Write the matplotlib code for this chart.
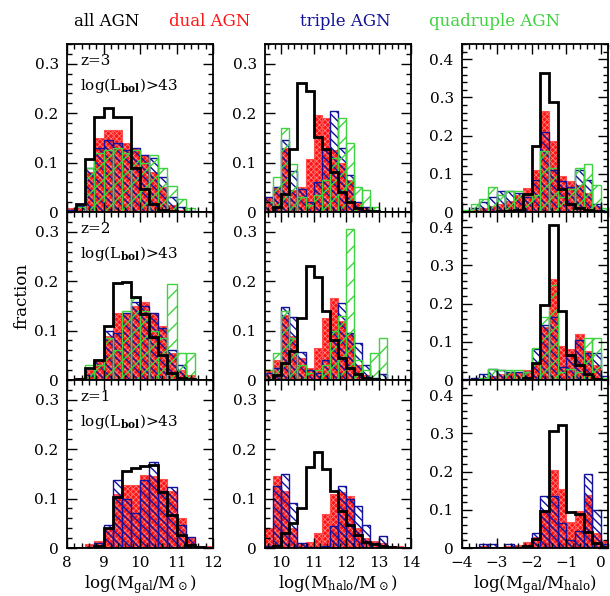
import numpy as np
import matplotlib
matplotlib.use('Agg')
import matplotlib.pyplot as plt
from matplotlib.ticker import MultipleLocator, FuncFormatter

plt.rcParams['font.family'] = 'DejaVu Serif'
plt.rcParams['mathtext.fontset'] = 'dejavuserif'
plt.rcParams['hatch.linewidth'] = 1.0

# bin edges (0.25 dex everywhere)
edges_gal = np.arange(8.0, 12.01, 0.25)
edges_halo = np.arange(9.5, 14.01, 0.25)
edges_ratio = np.arange(-4.0, 0.26, 0.25)

# --- log(Mgal/Msun), bins 8.0 ... 11.75
all_gal_z3 = [0, 0.016, 0.107, 0.193, 0.21, 0.193, 0.193, 0.09, 0.046, 0.016, 0.005, 0.002, 0, 0, 0, 0]
dual_gal_z3 = [0.008, 0.015, 0.08, 0.15, 0.165, 0.165, 0.14, 0.13, 0.115, 0.08, 0.05, 0.015, 0.005, 0, 0, 0]
triple_gal_z3 = [0.005, 0.012, 0.09, 0.13, 0.145, 0.14, 0.125, 0.13, 0.115, 0.11, 0.07, 0.03, 0.01, 0.003, 0, 0]
quad_gal_z3 = [0, 0.01, 0.09, 0.12, 0.125, 0.13, 0.12, 0.125, 0.1, 0.115, 0.09, 0.053, 0.026, 0.008, 0, 0]

all_gal_z2 = [0, 0.003, 0.025, 0.04, 0.11, 0.197, 0.198, 0.168, 0.133, 0.088, 0.05, 0.015, 0.005, 0.002, 0, 0]
dual_gal_z2 = [0.003, 0.005, 0.02, 0.04, 0.09, 0.135, 0.135, 0.15, 0.158, 0.135, 0.11, 0.055, 0.02, 0.01, 0.003, 0]
triple_gal_z2 = [0, 0, 0.01, 0.04, 0.1, 0.095, 0.135, 0.157, 0.15, 0.135, 0.105, 0.06, 0.03, 0.005, 0, 0]
quad_gal_z2 = [0, 0, 0.03, 0.03, 0.085, 0.06, 0.14, 0.165, 0.14, 0.1, 0.085, 0.195, 0.055, 0.055, 0, 0]

all_gal_z1 = [0, 0, 0, 0.005, 0.04, 0.104, 0.155, 0.162, 0.166, 0.168, 0.113, 0.067, 0.027, 0.007, 0.002, 0]
dual_gal_z1 = [0, 0, 0.008, 0.015, 0.04, 0.11, 0.128, 0.128, 0.148, 0.145, 0.14, 0.115, 0.061, 0.02, 0.005, 0.004]
triple_gal_z1 = [0, 0, 0.003, 0.01, 0.046, 0.138, 0.1, 0.07, 0.138, 0.175, 0.115, 0.124, 0.047, 0.022, 0.003, 0]

# --- log(Mhalo/Msun), bins 9.5 ... 13.75
all_halo_z3 = [0, 0.01, 0.036, 0.127, 0.262, 0.245, 0.151, 0.127, 0.08, 0.04, 0.02, 0.009, 0.003, 0.002, 0, 0, 0, 0]
dual_halo_z3 = [0.03, 0.05, 0.13, 0.045, 0.05, 0.107, 0.196, 0.19, 0.125, 0.1, 0.065, 0.02, 0.01, 0.003, 0, 0, 0, 0]
triple_halo_z3 = [0.03, 0.05, 0.145, 0.083, 0.047, 0.02, 0.06, 0.127, 0.205, 0.13, 0.075, 0.02, 0.01, 0.003, 0, 0, 0, 0]
quad_halo_z3 = [0.02, 0.07, 0.17, 0.098, 0.03, 0.015, 0.035, 0.065, 0.11, 0.19, 0.14, 0.05, 0.045, 0.01, 0, 0, 0, 0]

all_halo_z2 = [0, 0.01, 0.035, 0.058, 0.125, 0.23, 0.208, 0.14, 0.08, 0.045, 0.025, 0.013, 0.005, 0.003, 0, 0, 0, 0]
dual_halo_z2 = [0.02, 0.04, 0.132, 0.09, 0.045, 0.025, 0.065, 0.125, 0.165, 0.12, 0.095, 0.03, 0.01, 0.005, 0.003, 0, 0, 0]
triple_halo_z2 = [0.015, 0.025, 0.147, 0.127, 0.057, 0.02, 0.015, 0.04, 0.1, 0.155, 0.095, 0.075, 0.03, 0.005, 0.012, 0, 0, 0]
quad_halo_z2 = [0.02, 0.055, 0.14, 0.085, 0.03, 0.015, 0.02, 0.03, 0.1, 0.13, 0.305, 0.04, 0.02, 0.055, 0.085, 0, 0, 0]

all_halo_z1 = [0, 0.005, 0.03, 0.05, 0.08, 0.163, 0.195, 0.16, 0.116, 0.074, 0.046, 0.027, 0.013, 0.008, 0.004, 0.002, 0, 0]
dual_halo_z1 = [0.04, 0.145, 0.115, 0.04, 0.01, 0.012, 0.03, 0.068, 0.11, 0.113, 0.105, 0.04, 0.02, 0.015, 0.01, 0.005, 0.005, 0]
triple_halo_z1 = [0.005, 0.125, 0.15, 0.092, 0.01, 0.002, 0.002, 0.005, 0.045, 0.126, 0.1, 0.085, 0.046, 0.01, 0.024, 0.002, 0, 0]

# --- log(Mgal/Mhalo), bins -4.0 ... 0.0
all_ratio_z3 = [0, 0, 0, 0, 0.002, 0.003, 0.005, 0.046, 0.173, 0.365, 0.288, 0.06, 0.022, 0.011, 0.005, 0.002, 0]
dual_ratio_z3 = [0, 0.005, 0.01, 0.015, 0.02, 0.03, 0.045, 0.064, 0.11, 0.265, 0.185, 0.095, 0.08, 0.07, 0.05, 0.015, 0.005]
triple_ratio_z3 = [0, 0.01, 0.025, 0.04, 0.055, 0.055, 0.05, 0.04, 0.085, 0.21, 0.11, 0.08, 0.065, 0.11, 0.085, 0.02, 0.005]
quad_ratio_z3 = [0.005, 0.02, 0.035, 0.065, 0.045, 0.055, 0.055, 0.045, 0.045, 0.16, 0.115, 0.04, 0.06, 0.115, 0.125, 0.07, 0.01]

all_ratio_z2 = [0, 0, 0, 0, 0, 0, 0, 0.005, 0.045, 0.197, 0.405, 0.18, 0.065, 0.04, 0.015, 0.003, 0]
dual_ratio_z2 = [0, 0.003, 0.005, 0.01, 0.015, 0.02, 0.02, 0.025, 0.045, 0.14, 0.265, 0.09, 0.08, 0.12, 0.075, 0.04, 0.005]
triple_ratio_z2 = [0.003, 0.005, 0.015, 0.03, 0.025, 0.02, 0.02, 0.02, 0.08, 0.145, 0.165, 0.035, 0.065, 0.105, 0.07, 0.07, 0.01]
quad_ratio_z2 = [0, 0, 0.005, 0.03, 0.025, 0.025, 0.025, 0.02, 0.085, 0.165, 0.25, 0.02, 0.03, 0.02, 0.11, 0.11, 0.005]

all_ratio_z1 = [0, 0, 0, 0, 0, 0, 0, 0.005, 0.023, 0.097, 0.307, 0.322, 0.093, 0.09, 0.041, 0.012, 0.003]
dual_ratio_z1 = [0, 0, 0.005, 0.003, 0, 0.005, 0.008, 0.015, 0.03, 0.1, 0.205, 0.155, 0.068, 0.098, 0.14, 0.04, 0.018]
triple_ratio_z1 = [0, 0, 0.01, 0.01, 0, 0.01, 0.003, 0.005, 0.04, 0.137, 0.137, 0.065, 0.02, 0.045, 0.195, 0.1, 0.01]

redshift_labels = ['z=3', 'z=2', 'z=1']
legend_labels = ['all AGN', 'dual AGN', 'triple AGN', 'quadruple AGN']

RED = '#ff1414'
RED_HATCH = '#ff8a8a'
BLUE = '#12129a'
GREEN = '#3fd33f'


def draw_panel(ax, edges, all_agn, dual, triple, quad=None):
  left = edges[:-1]
  w = np.diff(edges)
  # red: solid fill with a fine light texture, then a red outline
  with plt.rc_context({'hatch.linewidth': 0.5}):
    ax.bar(left, dual, width=w, align='edge', facecolor=RED,
           edgecolor=RED_HATCH, hatch='xxxxxx', linewidth=0)
  ax.bar(left, dual, width=w, align='edge', facecolor='none',
         edgecolor='#ff5050', linewidth=0.8)
  ax.bar(left, triple, width=w, align='edge', facecolor='none',
         edgecolor=BLUE, hatch='\\\\\\\\', linewidth=1.0)
  if quad is not None:
    ax.bar(left, quad, width=w, align='edge', facecolor='none',
           edgecolor=GREEN, hatch='//', linewidth=1.0)
  ax.stairs(all_agn, edges, color='black', linewidth=2.0, baseline=0)


def fmt_y(v, pos):
  if abs(v) < 1e-9:
    return '0'
  return f'{v:.1f}'


def fmt_x(v, pos):
  return f'{v:g}'.replace('-', '\u2212')


fig = plt.figure(figsize=(6.1, 5.96), dpi=100)

col_left = [67 / 610, 265 / 610, 462 / 610]
col_w = 146 / 610
row_bottom = [(596 - 212) / 596, (596 - 380) / 596, (596 - 548) / 596]
row_h = 168 / 596

panels = [
  [(edges_gal, all_gal_z3, dual_gal_z3, triple_gal_z3, quad_gal_z3),
   (edges_halo, all_halo_z3, dual_halo_z3, triple_halo_z3, quad_halo_z3),
   (edges_ratio, all_ratio_z3, dual_ratio_z3, triple_ratio_z3, quad_ratio_z3)],
  [(edges_gal, all_gal_z2, dual_gal_z2, triple_gal_z2, quad_gal_z2),
   (edges_halo, all_halo_z2, dual_halo_z2, triple_halo_z2, quad_halo_z2),
   (edges_ratio, all_ratio_z2, dual_ratio_z2, triple_ratio_z2, quad_ratio_z2)],
  [(edges_gal, all_gal_z1, dual_gal_z1, triple_gal_z1, None),
   (edges_halo, all_halo_z1, dual_halo_z1, triple_halo_z1, None),
   (edges_ratio, all_ratio_z1, dual_ratio_z1, triple_ratio_z1, None)],
]

xlims = [(8, 12), (9.5, 14), (-4, 0.2)]
ylims = [(0, 0.34), (0, 0.34), (0, 0.44)]
xlabels = [r'log(M$_{\rm gal}$/M$_\odot$)',
           r'log(M$_{\rm halo}$/M$_\odot$)',
           r'log(M$_{\rm gal}$/M$_{\rm halo}$)']

for i in range(3):
  for j in range(3):
    ax = fig.add_axes([col_left[j], row_bottom[i], col_w, row_h])
    e, a, d, t, q = panels[i][j]
    draw_panel(ax, e, a, d, t, q)
    ax.set_xlim(*xlims[j])
    ax.set_ylim(*ylims[j])
    ax.xaxis.set_major_locator(MultipleLocator(1))
    ax.xaxis.set_minor_locator(MultipleLocator(0.2))
    ax.yaxis.set_major_locator(MultipleLocator(0.1))
    ax.yaxis.set_minor_locator(MultipleLocator(0.02))
    ax.yaxis.set_major_formatter(FuncFormatter(fmt_y))
    ax.xaxis.set_major_formatter(FuncFormatter(fmt_x))
    ax.tick_params(which='both', direction='in', top=True, right=True,
                   width=1.0, labelsize=11, pad=6)
    ax.tick_params(which='major', length=7)
    ax.tick_params(which='minor', length=3.5)
    for s in ax.spines.values():
      s.set_linewidth(1.3)
    if i < 2:
      ax.tick_params(labelbottom=False)
    else:
      ax.set_xlabel(xlabels[j], fontsize=12, labelpad=2)
    if j == 0:
      ax.text(0.09, 0.9, redshift_labels[i], transform=ax.transAxes,
              fontsize=11, ha='left', va='center')
      ax.text(0.09, 0.755, r'log(L$_{\bf bol}$)>43', transform=ax.transAxes,
              fontsize=11, ha='left', va='center')
    if i == 1 and j == 0:
      ax.set_ylabel('fraction', fontsize=12, labelpad=3)

# colour key along the top
key_x = [107 / 610, 210 / 610, 345 / 610, 495 / 610]
key_colors = ['black', RED, BLUE, GREEN]
for lab, x, c in zip(legend_labels, key_x, key_colors):
  fig.text(x, 1 - 22 / 596, lab, color=c, fontsize=12, ha='center', va='center')

fig.savefig('out.png', dpi=100)
